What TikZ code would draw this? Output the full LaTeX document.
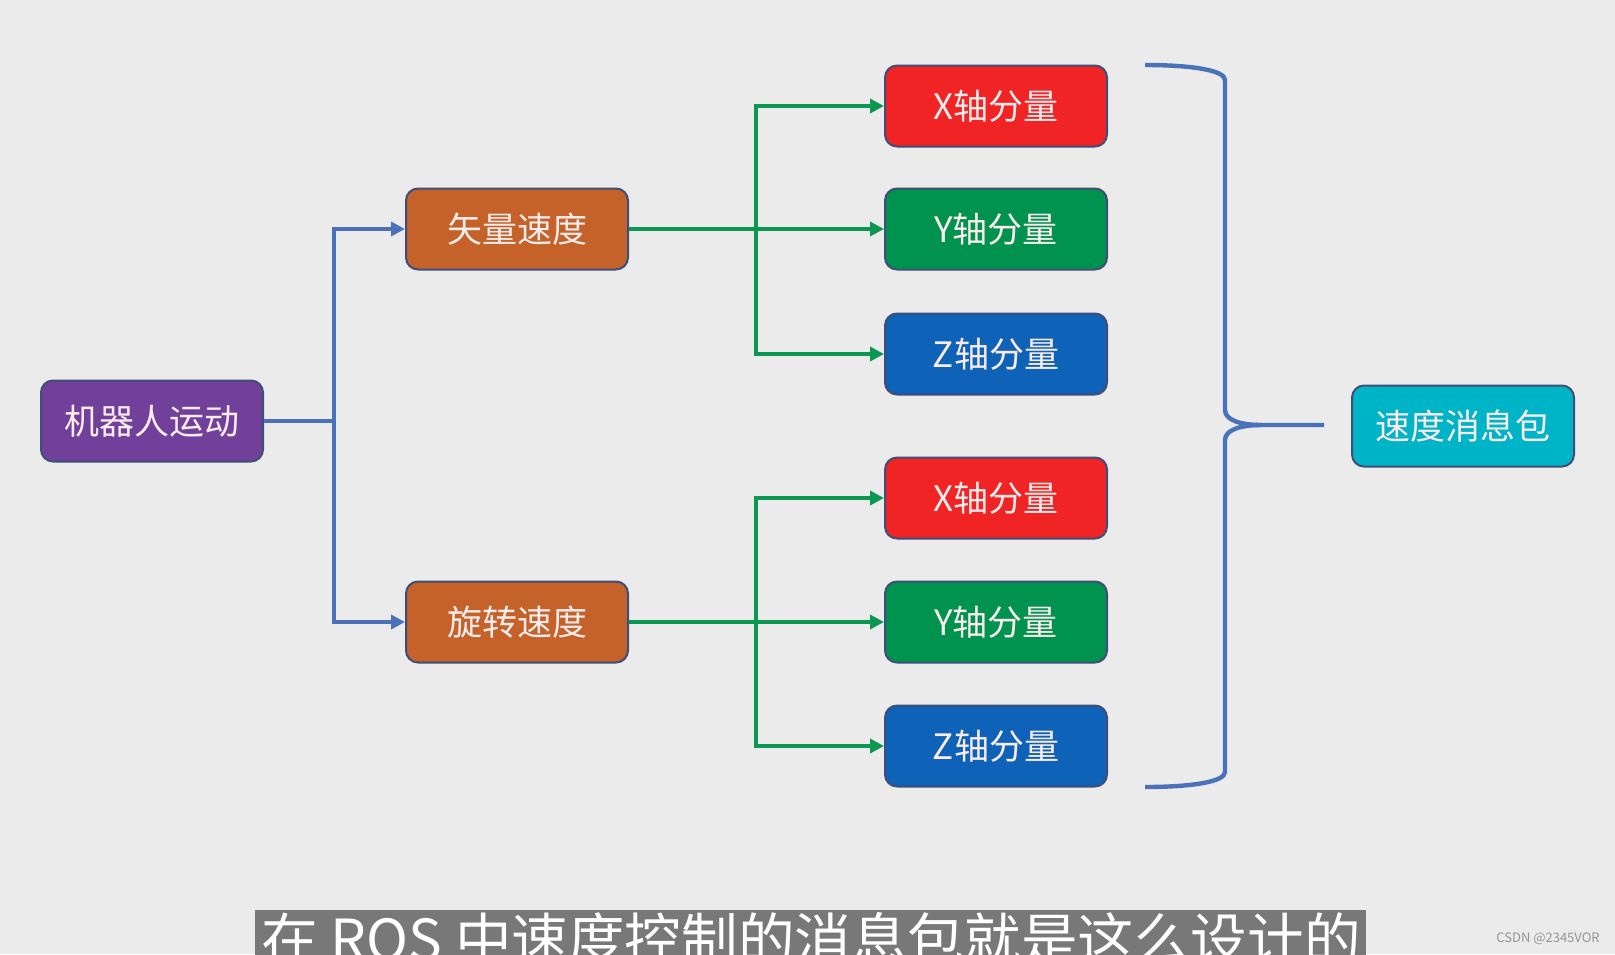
\documentclass[tikz,border=0pt]{standalone}
\usepackage{fontspec}
\setmainfont{Noto Sans CJK SC}
\usetikzlibrary{arrows.meta,positioning}
\definecolor{pagebg}{RGB}{235,235,235}
\definecolor{boxedge}{RGB}{63,78,120}
\definecolor{boxtext}{RGB}{250,236,236}
\definecolor{robotpurple}{RGB}{113,64,155}
\definecolor{speedorange}{RGB}{196,98,42}
\definecolor{axisred}{RGB}{240,36,36}
\definecolor{axisgreen}{RGB}{0,146,79}
\definecolor{axisblue}{RGB}{14,98,184}
\definecolor{packcyan}{RGB}{0,180,200}
\definecolor{linkblue}{RGB}{74,114,186}
\definecolor{linkgreen}{RGB}{11,150,82}
\definecolor{subgray}{RGB}{120,120,120}
\definecolor{markgray}{RGB}{150,150,150}

\begin{document}
\begin{tikzpicture}[
x=0.5pt,y=-0.5pt,
font=\normalfont,
box/.style={draw=boxedge,line width=1pt,rounded corners=6pt,
  minimum width=111pt,minimum height=40.5pt,inner sep=0pt,
  text=boxtext,font=\fontsize{17.5}{20}\selectfont},
blueway/.style={draw=linkblue,line width=2pt},
greenway/.style={draw=linkgreen,line width=2pt},
arrowed/.style={-{Triangle[length=7pt,width=7pt]}}]
    % page
    \useasboundingbox (0,0) rectangle (1615,954);
    \fill[pagebg] (0,0) rectangle (1615,954);

    % boxes
    \node[box,fill=robotpurple] (robot) at (152,421) {机器人运动};
    \node[box,fill=speedorange] (linear) at (517,229) {矢量速度};
    \node[box,fill=speedorange] (angular) at (517,622) {旋转速度};

    \node[box,fill=axisred]   (lx) at (996,106) {X轴分量};
    \node[box,fill=axisgreen] (ly) at (996,229) {Y轴分量};
    \node[box,fill=axisblue]  (lz) at (996,354) {Z轴分量};
    \node[box,fill=axisred]   (ax) at (996,498) {X轴分量};
    \node[box,fill=axisgreen] (ay) at (996,622) {Y轴分量};
    \node[box,fill=axisblue]  (az) at (996,746) {Z轴分量};

    \node[box,fill=packcyan] (pack) at (1463,426) {速度消息包};

    % robot -> linear / angular
    \draw[blueway] (robot.east) -- (334,421) coordinate (bfork);
    \draw[blueway,arrowed] (bfork) |- (linear.west);
    \draw[blueway,arrowed] (bfork) |- (angular.west);

    % linear -> axes
    \draw[greenway,arrowed] (linear.east) -- (ly.west);
    \coordinate (gfork1) at (756,229);
    \draw[greenway,arrowed] (gfork1) |- (lx.west);
    \draw[greenway,arrowed] (gfork1) |- (lz.west);

    % angular -> axes
    \draw[greenway,arrowed] (angular.east) -- (ay.west);
    \coordinate (gfork2) at (756,622);
    \draw[greenway,arrowed] (gfork2) |- (ax.west);
    \draw[greenway,arrowed] (gfork2) |- (az.west);

    % brace
    \coordinate (tip) at (1324,425);
    \draw[linkblue,line width=2.2pt]
        (1145,65) .. controls (1190,65) and (1225,70) .. (1225,80)
        -- (1225,410) .. controls (1225,420) and (1240,425) .. (1262,425)
        -- (tip);
    \draw[linkblue,line width=2.2pt]
        (1145,787) .. controls (1190,787) and (1225,782) .. (1225,772)
        -- (1225,440) .. controls (1225,430) and (1240,425) .. (1262,425);

    % subtitle
    \begin{scope}
      \clip (0,0) rectangle (1615,954);
      \fill[subgray] (255,910) rectangle (1366,980);
      \node[text=white,font=\fontsize{28.3}{32}\selectfont,anchor=north,inner sep=0pt]
        (caption) at (811,912) {在 ROS 中速度控制的消息包就是这么设计的};
    \end{scope}
    \node[text=markgray,font=\fontsize{6.5}{8}\selectfont,inner sep=0pt]
        (mark) at (1548,939) {CSDN @2345VOR};

\end{tikzpicture}
\end{document}
